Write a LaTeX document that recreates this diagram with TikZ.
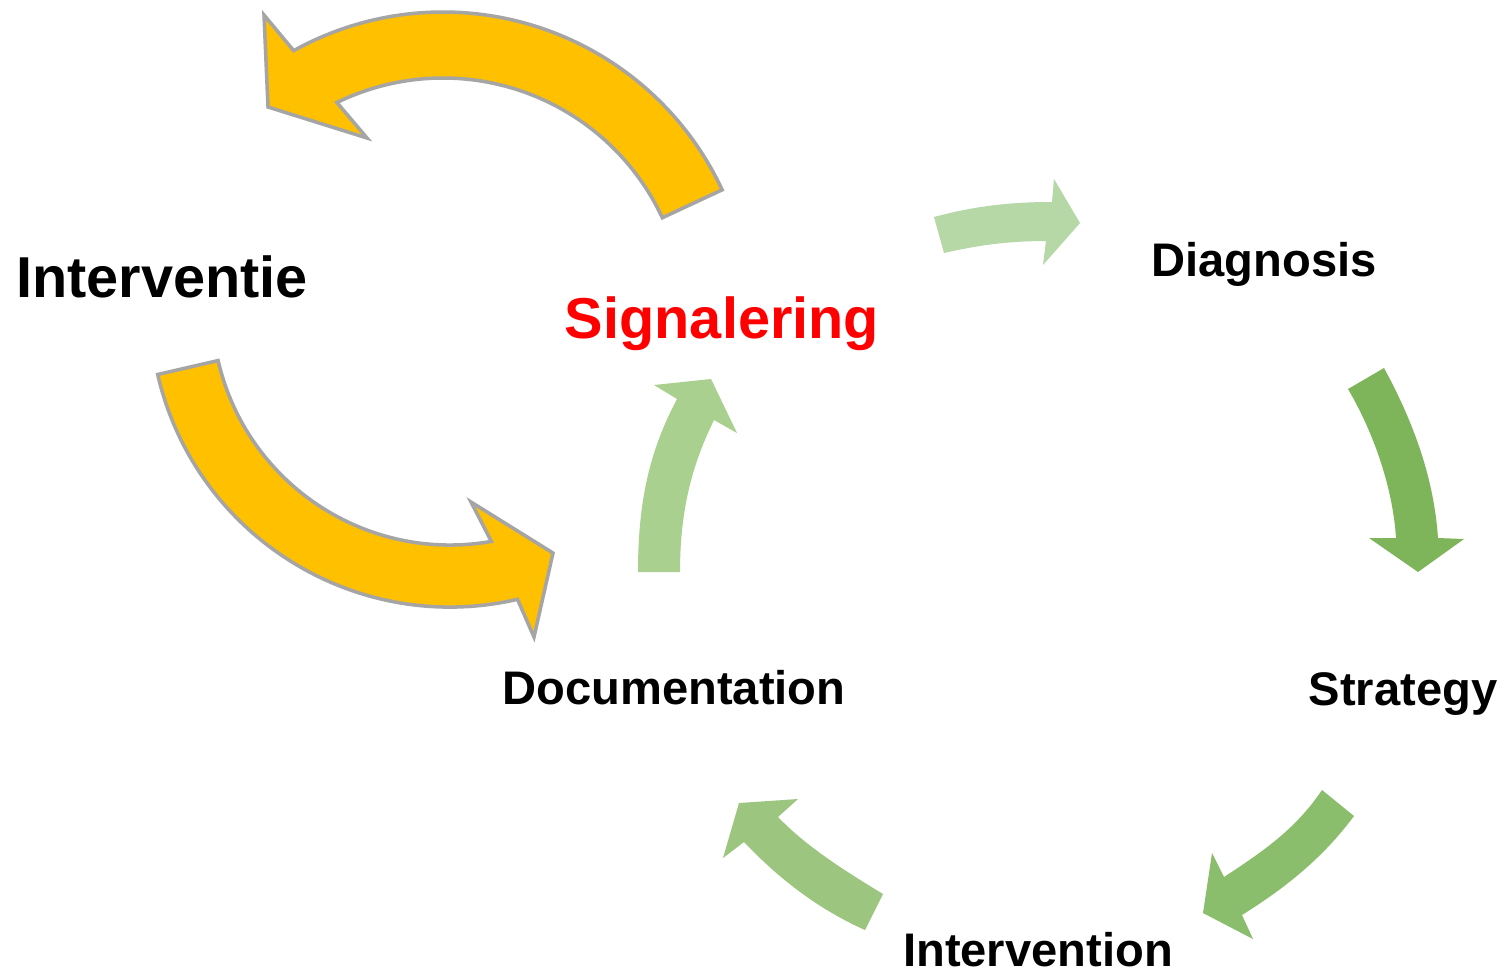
\documentclass[tikz,border=0pt]{standalone}
\usepackage{fontspec}
\setmainfont{Liberation Sans}
\definecolor{orangefill}{HTML}{FFC000}
\definecolor{orangeline}{HTML}{A5A5A5}
\definecolor{gA}{HTML}{B6D7A6}
\definecolor{gB}{HTML}{A9D08E}
\definecolor{gC}{HTML}{7FB55A}
\definecolor{gD}{HTML}{8BBE6C}
\definecolor{gE}{HTML}{9CC680}
\definecolor{sigred}{HTML}{FF0000}
\begin{document}
\begin{tikzpicture}[x=0.01cm,y=-0.01cm,
  orangearrow/.style={fill=orangefill,draw=orangeline,line width=1pt,line join=miter},
  greenarrow/.style={draw=none},
  biglabel/.style={font=\fontsize{16.4}{19}\selectfont\bfseries,inner sep=0pt,anchor=base},
  smalllabel/.style={font=\fontsize{13.4}{16}\selectfont\bfseries,inner sep=0pt,anchor=base}]
\useasboundingbox[fill=white] (0,0) rectangle (1509,972);

% labels
\node[biglabel] (interventie) at (162,297) {Interventie};
\node[biglabel,text=sigred] (signalering) at (722,338) {Signalering};
\node[smalllabel] (diagnosis) at (1264,276) {Diagnosis};
\node[smalllabel] (strategy) at (1403,705) {Strategy};
\node[smalllabel] (intervention) at (1038,966) {Intervention};
\node[smalllabel] (documentation) at (674,704) {Documentation};

% orange loop arrows
\draw[orangearrow] ([shift={(443,320)}]-25:308) arc[start angle=-25,end angle=-119,radius=308]
  -- (264,15) -- (268,107) -- (367,138)
  -- ([shift={(443,320)}]-116:242) arc[start angle=-116,end angle=-25,radius=242] -- cycle;
\draw[orangearrow] ([shift={(450,307)}]167:300) arc[start angle=167,end angle=77,radius=300]
  -- (534,637) -- (553,553) -- (471,502)
  -- ([shift={(450,307)}]80:238) arc[start angle=80,end angle=167,radius=238] -- cycle;

% green cycle arrows
\fill[gA,greenarrow] (934,217) .. controls (975,206) and (1010,202) .. (1052,202)
  -- (1054,179) -- (1080,223) -- (1043,265) -- (1046,241)
  .. controls (1005,241) and (975,246) .. (944,253) -- cycle;
\fill[gC,greenarrow] (1348,389) .. controls (1375,435) and (1393,490) .. (1396,538)
  -- (1369,538) -- (1418,572) -- (1464,539) -- (1438,538)
  .. controls (1434,480) and (1415,425) .. (1384,368) -- cycle;
\fill[gD,greenarrow] (1322,790) .. controls (1295,830) and (1262,852) .. (1224,877)
  -- (1212,853) -- (1203,913) -- (1253,939) -- (1242,915)
  .. controls (1290,885) and (1325,855) .. (1354,816) -- cycle;
\fill[gE,greenarrow] (883,894) .. controls (840,868) and (805,845) .. (778,817)
  -- (798,799) -- (739,803) -- (723,858) -- (744,842)
  .. controls (780,880) and (820,910) .. (865,930) -- cycle;
\fill[gB,greenarrow] (638,572) .. controls (638,500) and (650,450) .. (677,399)
  -- (654,385) -- (711,379) -- (737,433) -- (714,420)
  .. controls (692,465) and (680,510) .. (680,572) -- cycle;
\end{tikzpicture}
\end{document}
